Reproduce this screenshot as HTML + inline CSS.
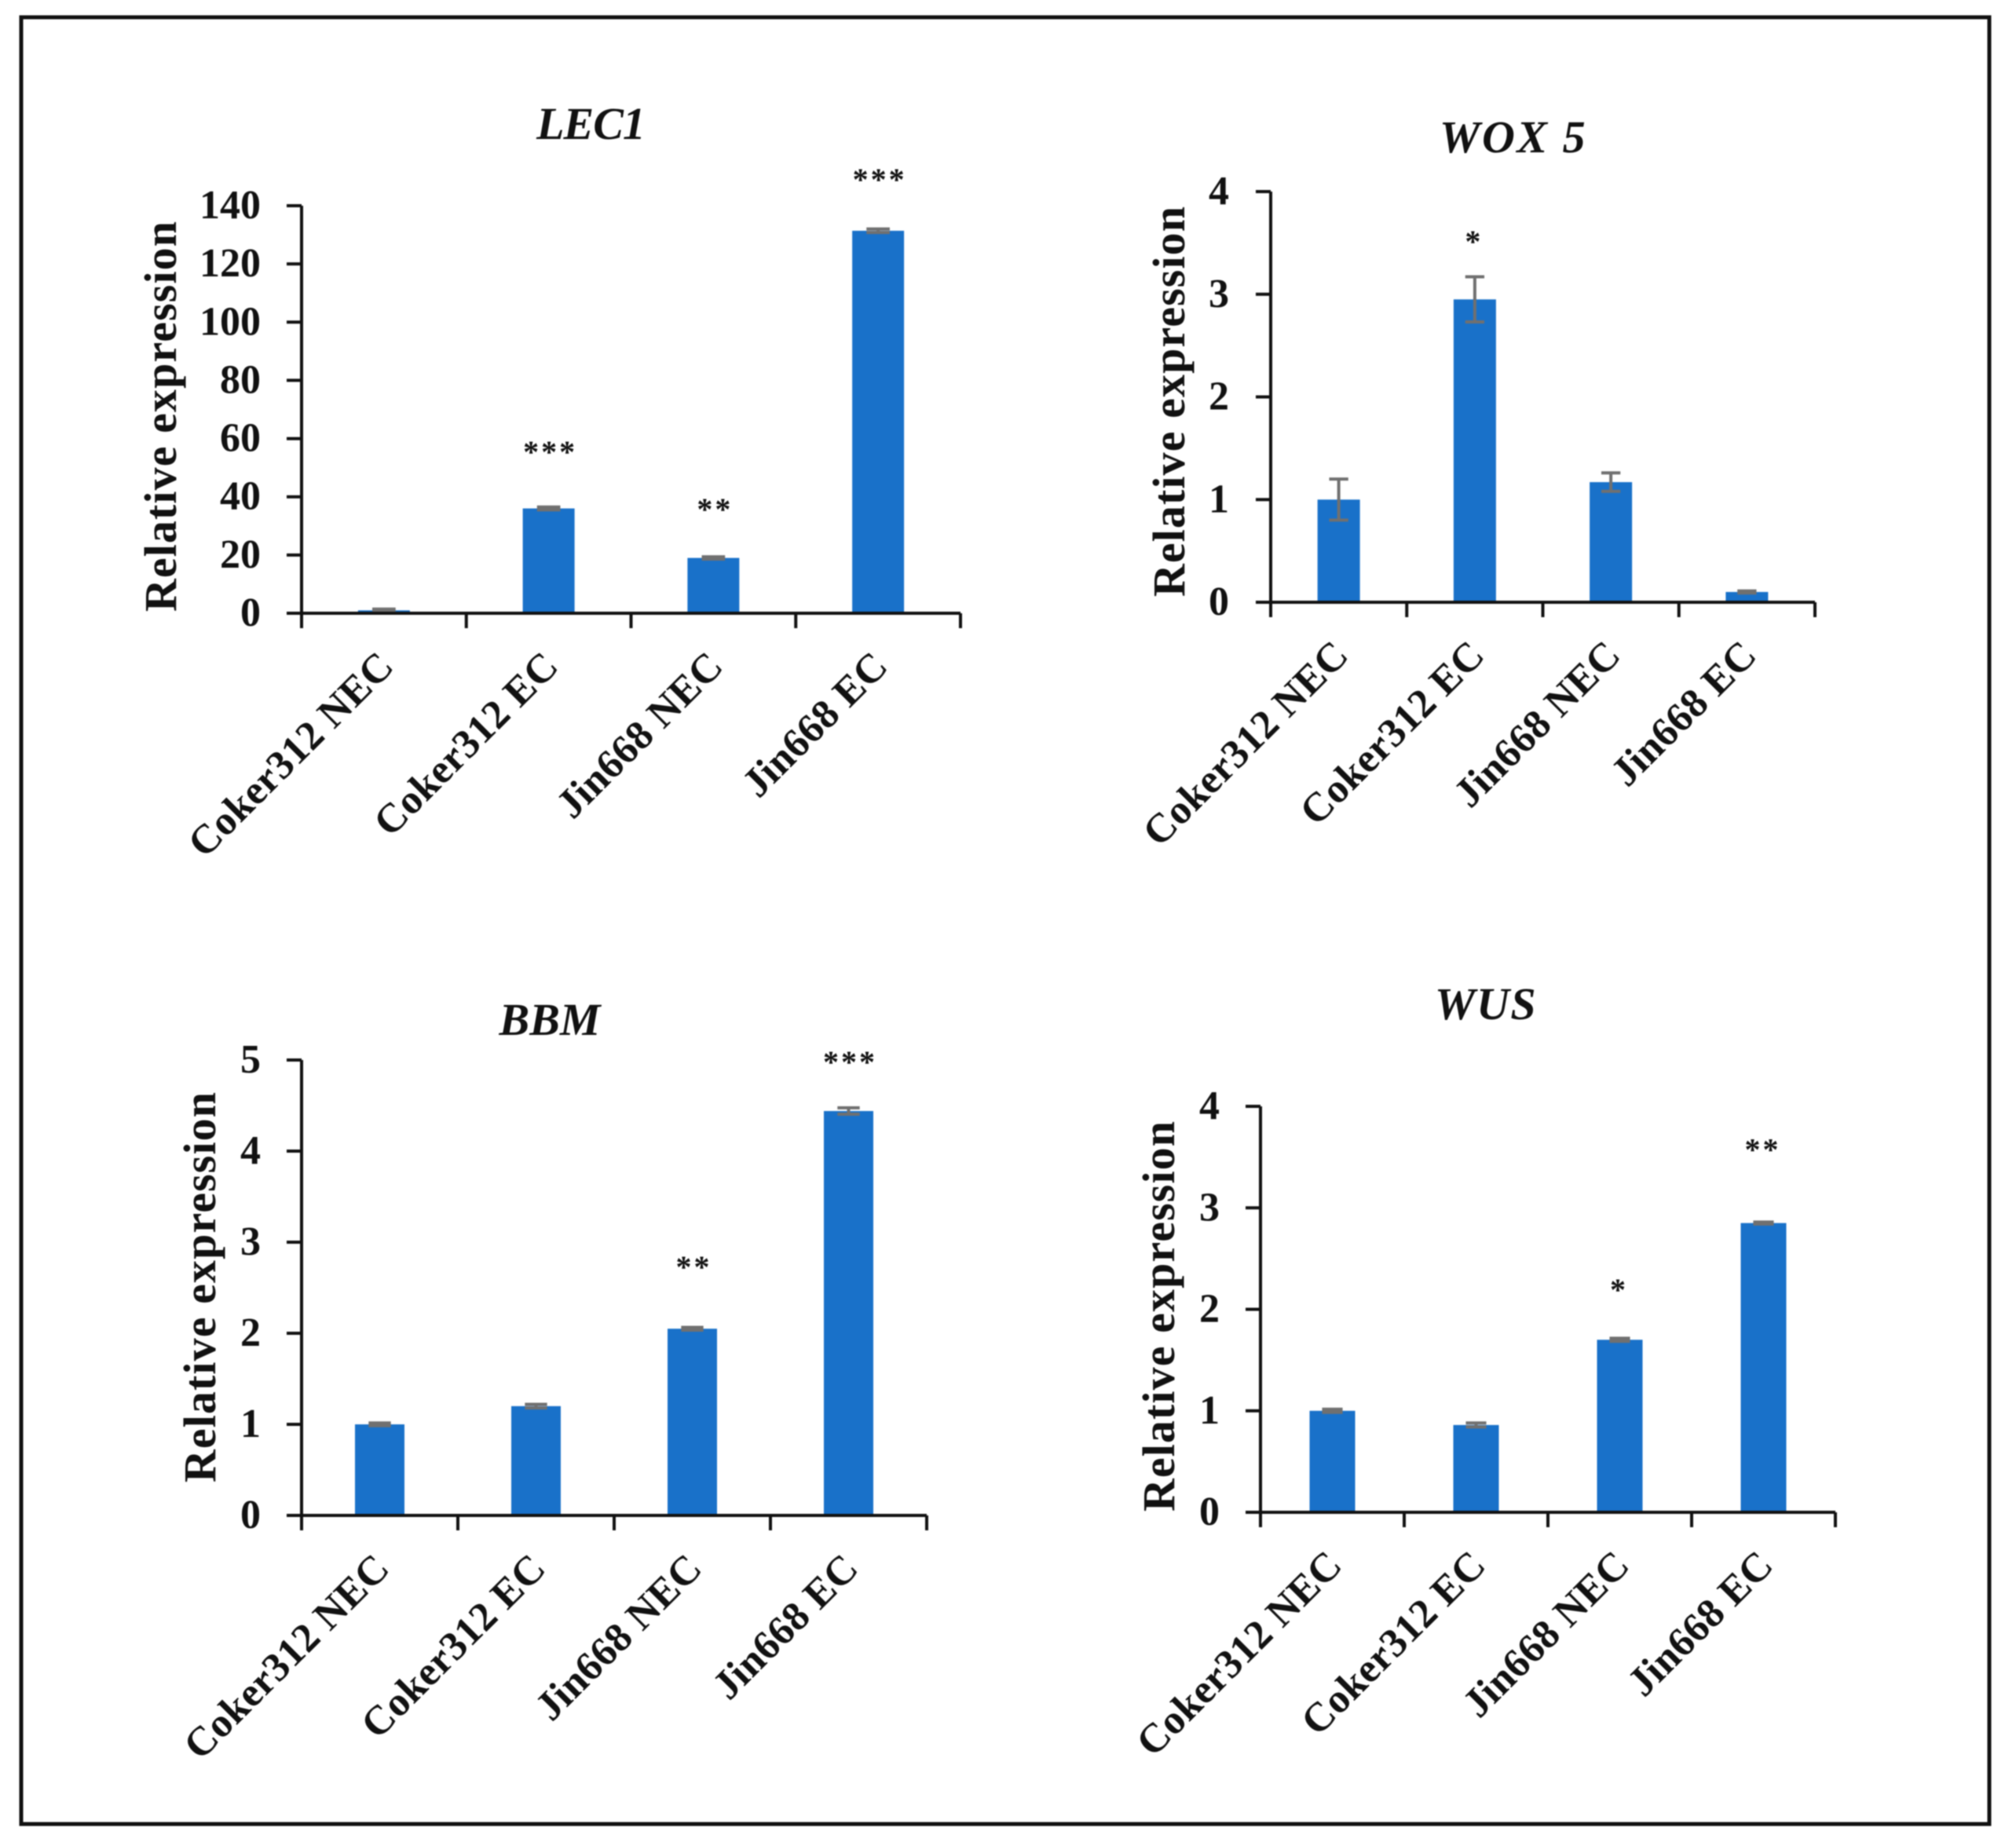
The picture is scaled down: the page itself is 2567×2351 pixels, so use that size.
<!DOCTYPE html>
<html lang="en">
<head>
<meta charset="utf-8">
<title>Relative expression of LEC1, WOX5, BBM and WUS</title>
<style>
html,body{margin:0;padding:0;background:#fff}
svg{display:block;filter:blur(0.9px)}
text{font-family:"Liberation Serif",serif;fill:#111;font-weight:bold}
</style>
</head>
<body>
<svg id="figure" xmlns="http://www.w3.org/2000/svg" width="2567" height="2351" viewBox="0 0 2567 2351">
<rect x="0" y="0" width="2567" height="2351" fill="#ffffff"/>
<rect x="27" y="22" width="2506" height="2301" fill="none" stroke="#111111" stroke-width="5"/>
</svg>
<script>
const categories = ['Coker312 NEC', 'Coker312 EC', 'Jin668 NEC', 'Jin668 EC'];

const lec1Values = [1, 36, 19, 131.4];
const lec1Errors = [0.4, 0.5, 0.4, 0.6];
const lec1Ticks = [0, 20, 40, 60, 80, 100, 120, 140];
const lec1Stars = ['', '***', '**', '***'];
const lec1StarLevels = [0, 56.4, 36.7, 150];

const wox5Values = [1, 2.95, 1.17, 0.1];
const wox5Errors = [0.2, 0.22, 0.09, 0.01];
const wox5Ticks = [0, 1, 2, 3, 4];
const wox5Stars = ['', '*', '', ''];
const wox5StarLevels = [0, 3.54, 0, 0];

const bbmValues = [1, 1.2, 2.05, 4.44];
const bbmErrors = [0.015, 0.02, 0.015, 0.035];
const bbmTicks = [0, 1, 2, 3, 4, 5];
const bbmStars = ['', '', '**', '***'];
const bbmStarLevels = [0, 0, 2.76, 5.01];

const wusValues = [1, 0.86, 1.7, 2.85];
const wusErrors = [0.015, 0.02, 0.015, 0.01];
const wusTicks = [0, 1, 2, 3, 4];
const wusStars = ['', '', '*', '**'];
const wusStarLevels = [0, 0, 2.22, 3.6];

const NS = 'http://www.w3.org/2000/svg';
const figure = document.getElementById('figure');

function make(parent, tag, attrs, content) {
  const el = document.createElementNS(NS, tag);
  for (const k in attrs) el.setAttribute(k, attrs[k]);
  if (content !== undefined) el.textContent = content;
  parent.appendChild(el);
  return el;
}

function drawChart(cfg) {
  const g = make(figure, 'g', {});
  
  

  const maxTick = cfg.ticks[cfg.ticks.length - 1];
  const yScale = v => cfg.bottom - (v / maxTick) * (cfg.bottom - cfg.top);
  const band = (cfg.right - cfg.left) / categories.length;
  const xScale = i => cfg.left + band * (i + 0.5);

  const title = make(g, 'text', {
    x: cfg.titleX, y: cfg.titleY, 'text-anchor': 'middle',
    'font-size': 58, 'font-style': 'italic', 'letter-spacing': cfg.titleSpacing
  }, cfg.title);
  
  

  const yTitle = make(g, 'text', {
    transform: 'translate(' + cfg.yTitleX + ',' + cfg.yTitleY + ') rotate(-90)',
    'text-anchor': 'middle', 'font-size': 58, 'letter-spacing': 1.1
  }, 'Relative expression');
  
  

  cfg.values.forEach((v, i) => {
    const bar = make(g, 'rect', {
      x: xScale(i) - cfg.barWidth / 2, y: yScale(v),
      width: cfg.barWidth, height: cfg.bottom - yScale(v), fill: '#1971c9'
    });
    
    

    const hi = yScale(v + cfg.errors[i]);
    const lo = yScale(v - cfg.errors[i]);
    const cap = cfg.barWidth * 0.45;
    const err = make(g, 'path', {
      d: 'M' + (xScale(i) - cap / 2) + ' ' + hi + 'H' + (xScale(i) + cap / 2) +
         'M' + xScale(i) + ' ' + hi + 'V' + lo +
         'M' + (xScale(i) - cap / 2) + ' ' + lo + 'H' + (xScale(i) + cap / 2),
      stroke: '#707070', 'stroke-width': 4, fill: 'none'
    });
    
    

    if (cfg.stars[i]) {
      const star = make(g, 'text', {
        x: xScale(i) + cfg.starShift, y: yScale(cfg.starLevels[i]) + 17,
        'text-anchor': 'middle', 'font-size': 40, 'font-weight': 'normal',
        'letter-spacing': 3
      }, cfg.stars[i]);
      
      
    }
  });

  const axes = make(g, 'path', {
    d: 'M' + cfg.left + ' ' + cfg.top + 'V' + (cfg.bottom + 19) +
       'M' + (cfg.left - 19) + ' ' + cfg.bottom + 'H' + cfg.right,
    stroke: '#111111', 'stroke-width': 4, fill: 'none'
  });
  
  

  cfg.ticks.forEach(t => {
    const tick = make(g, 'line', {
      x1: cfg.left - 19, x2: cfg.left, y1: yScale(t), y2: yScale(t),
      stroke: '#111111', 'stroke-width': 4
    });
    
    

    const label = make(g, 'text', {
      x: cfg.labelRight, y: yScale(t) + 16, 'text-anchor': 'end', 'font-size': 52
    }, String(t));
    
    
  });

  categories.forEach((c, i) => {
    const tick = make(g, 'line', {
      x1: cfg.left + band * (i + 1), x2: cfg.left + band * (i + 1),
      y1: cfg.bottom, y2: cfg.bottom + 19, stroke: '#111111', 'stroke-width': 4
    });
    
    

    const label = make(g, 'text', {
      transform: 'translate(' + (xScale(i) + 15) + ',' + (cfg.bottom + 70) + ') rotate(-45)',
      'text-anchor': 'end', 'font-size': 52, 'letter-spacing': 0.4
    }, c);
    
    
  });
}

drawChart({
  key: 'lec1', title: 'LEC1', titleX: 752, titleY: 177, titleSpacing: -1,
  values: lec1Values, errors: lec1Errors, ticks: lec1Ticks, stars: lec1Stars, starLevels: lec1StarLevels,
  left: 384, right: 1223, top: 262, bottom: 781, barWidth: 66, starShift: 2,
  yTitleX: 224, yTitleY: 530, labelRight: 332
});
drawChart({
  key: 'wox5', title: 'WOX 5', titleX: 1927, titleY: 194, titleSpacing: 2.5,
  values: wox5Values, errors: wox5Errors, ticks: wox5Ticks, stars: wox5Stars, starLevels: wox5StarLevels,
  left: 1618, right: 2311, top: 244, bottom: 767, barWidth: 54, starShift: -1,
  yTitleX: 1508, yTitleY: 511, labelRight: 1565
});
drawChart({
  key: 'bbm', title: 'BBM', titleX: 700, titleY: 1318, titleSpacing: 0,
  values: bbmValues, errors: bbmErrors, ticks: bbmTicks, stars: bbmStars, starLevels: bbmStarLevels,
  left: 384, right: 1180, top: 1350, bottom: 1930, barWidth: 63, starShift: 2,
  yTitleX: 274, yTitleY: 1639, labelRight: 332
});
drawChart({
  key: 'wus', title: 'WUS', titleX: 1892, titleY: 1298, titleSpacing: 1.5,
  values: wusValues, errors: wusErrors, ticks: wusTicks, stars: wusStars, starLevels: wusStarLevels,
  left: 1605, right: 2337, top: 1409, bottom: 1926, barWidth: 58, starShift: -1,
  yTitleX: 1495, yTitleY: 1676, labelRight: 1553
});
</script>
</body>
</html>
